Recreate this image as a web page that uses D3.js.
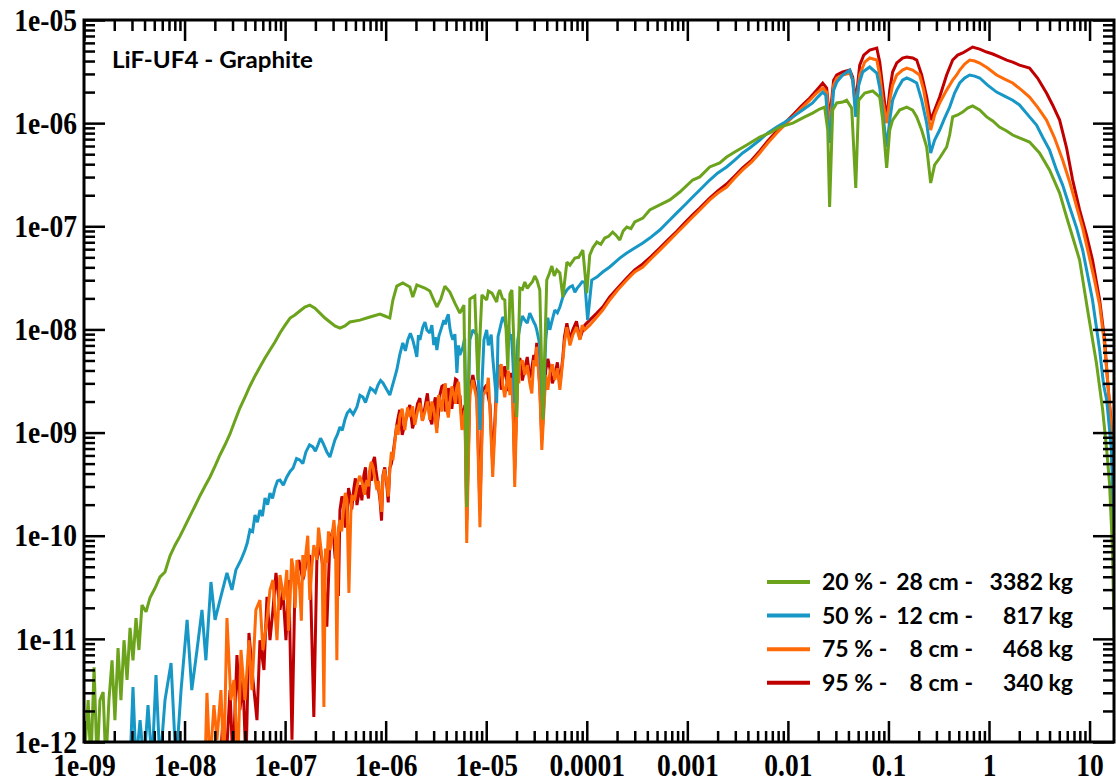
<!DOCTYPE html>
<html><head><meta charset="utf-8">
<script src="https://cdn.jsdelivr.net/npm/d3@7"></script>
<style>
html,body{margin:0;padding:0;background:#fff;}
svg{display:block;}
</style></head>
<body>
<svg id="chart" width="1116" height="782"></svg>
<script>
// ---------- data ----------
const xTickValues = [1e-9,1e-8,1e-7,1e-6,1e-5,1e-4,1e-3,1e-2,1e-1,1,10];
const xTickLabels = ["1e-09","1e-08","1e-07","1e-06","1e-05","0.0001","0.001","0.01","0.1","1","10"];
const yTickValues = [1e-12,1e-11,1e-10,1e-9,1e-8,1e-7,1e-6,1e-5];
const yTickLabels = ["1e-12","1e-11","1e-10","1e-09","1e-08","1e-07","1e-06","1e-05"];
const chartTitle = "LiF-UF4 - Graphite";
const legendPct = ["20 %","50 %","75 %","95 %"];
const legendThickness = ["28 cm","12 cm","8 cm","8 cm"];
const legendMass = ["3382 kg","817 kg","468 kg","340 kg"];

// [energy, flux]
const series20 = [[1.0e-9,6e-13],[1.1e-9,2.55e-12],[1.17e-9,6e-13],[1.26e-9,5.3e-12],[1.35e-9,6e-13],[1.44e-9,2.55e-12],[1.55e-9,3.05e-12],[1.65e-9,6e-13],[1.77e-9,2.55e-12],[1.9e-9,6.2e-12],[2.03e-9,1.63e-12],[2.18e-9,8.15e-12],[2.33e-9,2.55e-12],[2.5e-9,9.7e-12],[2.68e-9,4.0e-12],[2.87e-9,1.28e-11],[3.07e-9,6.2e-12],[3.29e-9,1.59e-11],[3.52e-9,7.8e-12],[3.77e-9,2.13e-11],[4.14e-9,1.83e-11],[4.53e-9,2.5e-11],[5.09e-9,3.11e-11],[5.7e-9,3.98e-11],[6.39e-9,4.45e-11],[7.17e-9,6.37e-11],[8.04e-9,8.1e-11],[9.02e-9,9.9e-11],[1.01e-8,1.24e-10],[1.13e-8,1.55e-10],[1.27e-8,1.94e-10],[1.42e-8,2.43e-10],[1.6e-8,3.03e-10],[1.79e-8,3.71e-10],[2.01e-8,4.74e-10],[2.25e-8,6.06e-10],[2.52e-8,7.57e-10],[2.83e-8,9.7e-10],[3.17e-8,1.3e-9],[3.55e-8,1.73e-9],[3.99e-8,2.21e-9],[4.47e-8,2.83e-9],[5.02e-8,3.54e-9],[5.62e-8,4.32e-9],[6.31e-8,5.29e-9],[7.07e-8,6.32e-9],[7.93e-8,7.55e-9],[8.89e-8,9.25e-9],[1.0e-7,1.1e-8],[1.12e-7,1.29e-8],[1.25e-7,1.38e-8],[1.4e-7,1.51e-8],[1.57e-7,1.65e-8],[1.76e-7,1.72e-8],[1.98e-7,1.61e-8],[2.22e-7,1.44e-8],[2.49e-7,1.29e-8],[2.79e-7,1.18e-8],[3.13e-7,1.08e-8],[3.51e-7,1.03e-8],[3.93e-7,1.08e-8],[4.41e-7,1.18e-8],[5.55e-7,1.23e-8],[6.98e-7,1.32e-8],[8.78e-7,1.41e-8],[9.8e-7,1.35e-8],[1.1e-6,1.29e-8],[1.18e-6,1.93e-8],[1.29e-6,2.63e-8],[1.48e-6,2.82e-8],[1.74e-6,2.58e-8],[1.86e-6,2.06e-8],[2.04e-6,2.7e-8],[2.45e-6,2.52e-8],[2.75e-6,2.36e-8],[2.95e-6,2.01e-8],[3.23e-6,1.65e-8],[3.54e-6,1.97e-8],[3.88e-6,2.63e-8],[4.35e-6,2.3e-8],[4.88e-6,1.8e-8],[5.47e-6,1.44e-8],[6.0e-6,1.72e-8],[6.4e-6,1.9e-10],[6.87e-6,1.97e-8],[7.7e-6,2.11e-8],[8.26e-6,3.23e-9],[9.06e-6,2.16e-8],[1.01e-5,1.93e-8],[1.05e-5,2.35e-8],[1.14e-5,2.25e-8],[1.27e-5,1.84e-8],[1.31e-5,2.2e-8],[1.36e-5,2.41e-8],[1.45e-5,2.0e-8],[1.53e-5,1.93e-8],[1.64e-5,4.05e-9],[1.72e-5,2.2e-8],[1.8e-5,2.41e-8],[2.01e-5,1.42e-9],[2.16e-5,2.52e-8],[2.29e-5,2.45e-8],[2.42e-5,2.88e-8],[2.56e-5,2.5e-8],[2.71e-5,2.7e-8],[2.88e-5,2.9e-8],[3.04e-5,3.29e-8],[3.2e-5,3.0e-8],[3.41e-5,2.41e-8],[3.66e-5,1.33e-9],[4.0e-5,3.01e-8],[4.25e-5,3.5e-8],[4.49e-5,4.12e-8],[4.75e-5,3.3e-8],[5.04e-5,3.77e-8],[5.4e-5,3.52e-8],[5.78e-5,2.06e-8],[6.34e-5,4.5e-8],[6.8e-5,4.2e-8],[7.61e-5,4.92e-8],[8.3e-5,5.0e-8],[9.14e-5,5.88e-8],[1.0e-4,2.25e-8],[1.07e-4,5.26e-8],[1.15e-4,6.2e-8],[1.26e-4,7.03e-8],[1.38e-4,6.7e-8],[1.51e-4,7.69e-8],[1.65e-4,8.0e-8],[1.81e-4,8.79e-8],[1.95e-4,8.2e-8],[2.13e-4,7.36e-8],[2.3e-4,9.0e-8],[2.5e-4,9.84e-8],[2.75e-4,9.5e-8],[3.0e-4,1.1e-7],[3.61e-4,1.2e-7],[4.23e-4,1.44e-7],[5.32e-4,1.61e-7],[6.69e-4,1.8e-7],[8.42e-4,2.15e-7],[1.13e-3,2.81e-7],[1.33e-3,3.01e-7],[1.67e-3,3.76e-7],[2.1e-3,4.11e-7],[2.46e-3,4.69e-7],[2.96e-3,5.25e-7],[3.9e-3,6.14e-7],[5.25e-3,7.34e-7],[6.6e-3,8.03e-7],[8.3e-3,9.17e-7],[1.12e-2,1.0e-6],[1.47e-2,1.15e-6],[1.76e-2,1.25e-6],[2.07e-2,1.37e-6],[2.32e-2,1.43e-6],[2.49e-2,8.58e-7],[2.6e-2,1.54e-7],[2.79e-2,1.34e-6],[3.06e-2,1.57e-6],[3.51e-2,1.6e-6],[3.84e-2,1.67e-6],[4.31e-2,1.4e-6],[4.73e-2,2.35e-7],[5.06e-2,1.67e-6],[5.81e-2,1.96e-6],[6.97e-2,2.05e-6],[8.19e-2,1.79e-6],[8.77e-2,1.07e-6],[9.6e-2,3.68e-7],[0.103,8.58e-7],[0.110,1.07e-6],[0.129,1.34e-6],[0.152,1.43e-6],[0.174,1.34e-6],[0.191,1.15e-6],[0.214,8.58e-7],[0.240,5.87e-7],[0.263,2.63e-7],[0.288,3.93e-7],[0.323,4.59e-7],[0.379,5.87e-7],[0.406,7.67e-7],[0.435,1.15e-6],[0.488,1.2e-6],[0.547,1.28e-6],[0.613,1.4e-6],[0.687,1.47e-6],[0.808,1.34e-6],[0.948,1.15e-6],[1.09,1.05e-6],[1.27,9.17e-7],[1.5,8.4e-7],[1.72,7.67e-7],[2.01,7.18e-7],[2.53,6.56e-7],[3.18,5.14e-7],[4.0,3.52e-7],[5.04,2.1e-7],[5.91,1.23e-7],[6.79,7.87e-8],[7.96,4.71e-8],[9.56,1.54e-8],[11.7,4.73e-9],[13.5,1.66e-9],[14.8,6.77e-10],[15.8,3.24e-10],[16.9,7.28e-11],[17.7,7.8e-12],[18.6,3e-13]];

const series50 = [[2.87e-9,6e-13],[3.07e-9,3.41e-12],[3.29e-9,6e-13],[3.61e-9,1.63e-12],[3.95e-9,6e-13],[4.33e-9,2.28e-12],[4.75e-9,6e-13],[5.2e-9,4.46e-12],[5.7e-9,6e-13],[6.39e-9,2.55e-12],[7.34e-9,5.83e-12],[8.23e-9,6e-13],[9.23e-9,3.19e-12],[1.06e-8,1.53e-11],[1.18e-8,3.19e-12],[1.33e-8,7.8e-12],[1.49e-8,1.91e-11],[1.63e-8,6.2e-12],[1.83e-8,3.56e-11],[2.01e-8,1.53e-11],[2.25e-8,2.38e-11],[2.64e-8,4.36e-11],[2.96e-8,2.98e-11],[3.24e-8,4.66e-11],[3.64e-8,5.82e-11],[3.99e-8,7.28e-11],[4.2e-8,8.5e-11],[4.47e-8,1.14e-10],[4.75e-8,1.1e-10],[5.02e-8,1.59e-10],[5.3e-8,1.35e-10],[5.62e-8,1.77e-10],[5.95e-8,1.55e-10],[6.31e-8,2.32e-10],[6.7e-8,2.0e-10],[7.07e-8,2.59e-10],[7.5e-8,2.3e-10],[7.93e-8,2.9e-10],[8.4e-8,3.4e-10],[8.89e-8,3.46e-10],[9.6e-8,3.1e-10],[1.04e-7,3.71e-10],[1.12e-7,4.2e-10],[1.2e-7,4.53e-10],[1.3e-7,5.6e-10],[1.4e-7,5.42e-10],[1.5e-7,5.0e-10],[1.61e-7,6.49e-10],[1.75e-7,7.6e-10],[1.89e-7,7.26e-10],[2.0e-7,6.6e-10],[2.12e-7,7.57e-10],[2.25e-7,8.8e-10],[2.38e-7,7.92e-10],[2.6e-7,6.49e-10],[2.79e-7,5.79e-10],[2.95e-7,7.0e-10],[3.13e-7,8.5e-10],[3.3e-7,9.5e-10],[3.51e-7,1.13e-9],[3.7e-7,1.05e-9],[3.93e-7,1.33e-9],[4.15e-7,1.55e-9],[4.41e-7,1.66e-9],[4.75e-7,1.5e-9],[5.18e-7,1.77e-9],[5.55e-7,2.3e-9],[5.94e-7,2.21e-9],[6.3e-7,1.95e-9],[6.66e-7,2.31e-9],[7.05e-7,2.7e-9],[7.47e-7,2.59e-9],[7.9e-7,2.45e-9],[8.38e-7,2.89e-9],[8.9e-7,3.2e-9],[9.4e-7,3.03e-9],[1.03e-6,2.59e-9],[1.1e-6,2.31e-9],[1.21e-6,3.23e-9],[1.29e-6,4.05e-9],[1.38e-6,5.66e-9],[1.48e-6,7.4e-9],[1.57e-6,6.2e-9],[1.66e-6,7.92e-9],[1.76e-6,9.2e-9],[1.86e-6,7.92e-9],[1.95e-6,6.6e-9],[2.04e-6,5.41e-9],[2.12e-6,8.8e-9],[2.19e-6,7.92e-9],[2.34e-6,1.05e-8],[2.46e-6,1.18e-8],[2.57e-6,9.9e-9],[2.75e-6,9.25e-9],[2.88e-6,1.1e-8],[3.01e-6,7.06e-9],[3.12e-6,8.4e-9],[3.23e-6,6.32e-9],[3.38e-6,8.6e-9],[3.54e-6,9.9e-9],[3.66e-6,1.1e-8],[3.79e-6,1.23e-8],[3.92e-6,1.12e-8],[4.06e-6,1.29e-8],[4.2e-6,1.4e-8],[4.35e-6,1.03e-8],[4.5e-6,8.8e-9],[4.66e-6,7.92e-9],[4.88e-6,9.0e-9],[5.11e-6,3.78e-9],[5.3e-6,7.0e-9],[5.47e-6,5.66e-9],[5.86e-6,6.76e-9],[6.1e-6,8.2e-9],[6.4e-6,5.79e-10],[6.87e-6,7.92e-9],[7.36e-6,9.9e-9],[8.07e-6,8.85e-9],[8.66e-6,1.06e-9],[9.49e-6,7.92e-9],[1.01e-5,9.9e-9],[1.05e-5,7.0e-9],[1.09e-5,7.92e-9],[1.12e-5,8.9e-9],[1.16e-5,5.41e-9],[1.27e-5,1.94e-9],[1.31e-5,8.5e-9],[1.36e-5,9.9e-9],[1.41e-5,1.15e-8],[1.46e-5,1.32e-8],[1.53e-5,1.2e-8],[1.6e-5,9.9e-9],[1.66e-5,1.1e-8],[1.72e-5,7.92e-9],[1.78e-5,9.0e-9],[1.84e-5,5.05e-9],[1.92e-5,1.94e-9],[2.06e-5,7.92e-9],[2.11e-5,9.2e-9],[2.16e-5,1.05e-8],[2.29e-5,1.35e-8],[2.42e-5,1.23e-8],[2.56e-5,1.15e-8],[2.71e-5,1.44e-8],[2.84e-5,1.3e-8],[2.97e-5,1.18e-8],[3.08e-5,1.1e-8],[3.18e-5,9.9e-9],[3.41e-5,7.06e-9],[3.66e-5,1.42e-9],[3.91e-5,7.92e-9],[4.1e-5,1.3e-8],[4.29e-5,9.9e-9],[4.55e-5,1.25e-8],[4.81e-5,1.54e-8],[5.1e-5,1.45e-8],[5.4e-5,1.65e-8],[5.78e-5,2.06e-8],[6.0e-5,2.2e-8],[6.34e-5,2.41e-8],[6.79e-5,2.58e-8],[7.2e-5,2.65e-8],[7.61e-5,2.3e-8],[8.0e-5,2.5e-8],[8.54e-5,2.7e-8],[9.0e-5,2.9e-8],[9.56e-5,2.88e-8],[1.02e-4,1.23e-8],[1.12e-4,3.01e-8],[1.26e-4,3.22e-8],[1.44e-4,3.6e-8],[1.69e-4,4.03e-8],[2.13e-4,4.92e-8],[2.5e-4,5.5e-8],[3.0e-4,6.15e-8],[3.61e-4,6.88e-8],[4.23e-4,7.69e-8],[5.32e-4,9.2e-8],[6.39e-4,1.1e-7],[7.86e-4,1.35e-7],[9.44e-4,1.61e-7],[1.13e-3,1.92e-7],[1.33e-3,2.25e-7],[1.67e-3,2.81e-7],[2.01e-3,3.29e-7],[2.46e-3,3.76e-7],[2.96e-3,4.39e-7],[3.55e-3,5.14e-7],[4.17e-3,5.74e-7],[5.25e-3,6.86e-7],[6.31e-3,8.03e-7],[7.75e-3,9.17e-7],[9.3e-3,1.02e-6],[1.12e-2,1.15e-6],[1.4e-2,1.34e-6],[1.76e-2,1.57e-6],[1.98e-2,1.79e-6],[2.22e-2,2.0e-6],[2.38e-2,1.87e-6],[2.6e-2,6.42e-7],[2.85e-2,2.09e-6],[3.06e-2,2.5e-6],[3.51e-2,2.93e-6],[4.12e-2,3.27e-6],[4.41e-2,2.61e-6],[4.73e-2,1.15e-6],[5.06e-2,2.34e-6],[5.55e-2,3.13e-6],[6.51e-2,3.5e-6],[7.65e-2,3.06e-6],[8.19e-2,2.19e-6],[8.77e-2,1.25e-6],[9.6e-2,5.87e-7],[0.103,1.07e-6],[0.11,1.67e-6],[0.121,2.09e-6],[0.138,2.61e-6],[0.152,2.74e-6],[0.17,2.61e-6],[0.191,2.45e-6],[0.214,1.67e-6],[0.24,1.0e-6],[0.263,5.14e-7],[0.288,6.86e-7],[0.323,8.58e-7],[0.362,1.12e-6],[0.406,1.43e-6],[0.455,1.96e-6],[0.511,2.45e-6],[0.573,2.74e-6],[0.642,2.93e-6],[0.72,2.86e-6],[0.808,2.74e-6],[0.968,2.34e-6],[1.19,2.0e-6],[1.43,1.83e-6],[1.72,1.67e-6],[2.01,1.5e-6],[2.53,1.15e-6],[2.97,9.6e-7],[3.41,7.34e-7],[4.0,5.5e-7],[4.69,3.52e-7],[5.4,2.51e-7],[6.34,1.54e-7],[7.44,9.6e-8],[8.54,5.88e-8],[9.56,3.37e-8],[10.7,1.93e-8],[12.6,6.32e-9],[13.8,2.89e-9],[14.8,2.07e-9],[15.8,1.06e-9],[16.5,6.77e-10],[17.3,1.42e-10],[18.1,6e-13]];

const series75 = [[1.6e-8,6e-13],[1.67e-8,2.99e-12],[1.79e-8,6e-13],[1.96e-8,2.28e-12],[2.1e-8,1.05e-12],[2.3e-8,3.19e-12],[2.46e-8,6e-13],[2.64e-8,1.59e-11],[2.89e-8,2.55e-12],[3.1e-8,4.0e-12],[3.39e-8,6e-13],[3.64e-8,7.8e-12],[3.99e-8,2.55e-12],[4.37e-8,9.7e-12],[4.68e-8,3.19e-12],[5.12e-8,1.91e-11],[5.62e-8,2.38e-11],[6.02e-8,7.8e-12],[6.6e-8,1.53e-11],[7.07e-8,2.98e-11],[7.57e-8,3.72e-11],[8.3e-8,9.7e-12],[8.89e-8,4.16e-11],[9.75e-8,2.38e-11],[1.04e-7,4.66e-11],[1.08e-7,1.2e-11],[1.12e-7,2.38e-11],[1.16e-7,6.0e-11],[1.2e-7,4.98e-11],[1.26e-7,2.0e-11],[1.31e-7,5.82e-11],[1.35e-7,4.2e-11],[1.4e-7,2.98e-11],[1.45e-7,1.5e-11],[1.5e-7,6.5e-11],[1.55e-7,4.0e-11],[1.61e-7,6.8e-11],[1.68e-7,1.0e-10],[1.76e-7,2.38e-11],[1.85e-7,5.2e-11],[1.93e-7,8.1e-11],[2.07e-7,5.82e-11],[2.15e-7,1.2e-10],[2.22e-7,9.1e-11],[2.33e-7,6.0e-11],[2.43e-7,2.18e-12],[2.52e-7,7.5e-11],[2.6e-7,5.44e-11],[2.7e-7,1.1e-10],[2.79e-7,7.28e-11],[2.93e-7,1.0e-10],[3.06e-7,1.42e-10],[3.17e-7,9.0e-11],[3.27e-7,6.2e-12],[3.39e-7,1.2e-10],[3.51e-7,1.42e-10],[3.65e-7,1.1e-10],[3.84e-7,1.98e-10],[3.97e-7,2.6e-10],[4.12e-7,2.22e-10],[4.31e-7,2.79e-11],[4.5e-7,1.6e-10],[4.62e-7,2.48e-10],[4.9e-7,2.2e-10],[5.18e-7,2.97e-10],[5.5e-7,3.8e-10],[5.81e-7,3.32e-10],[6.15e-7,2.5e-10],[6.51e-7,3.46e-10],[6.75e-7,3.0e-10],[6.98e-7,4.53e-10],[7.2e-7,5.2e-10],[7.47e-7,4.64e-10],[7.8e-7,3.6e-10],[8.19e-7,2.77e-10],[8.5e-7,3.4e-10],[8.78e-7,2.37e-10],[9.1e-7,1.7e-10],[9.4e-7,3.62e-10],[9.7e-7,4.4e-10],[1.03e-6,3.24e-10],[1.06e-6,2.4e-10],[1.1e-6,4.34e-10],[1.14e-6,6.5e-10],[1.18e-6,5.42e-10],[1.29e-6,1.19e-9],[1.33e-6,9.5e-10],[1.38e-6,1.42e-9],[1.46e-6,1.7e-9],[1.55e-6,1.06e-9],[1.65e-6,1.75e-9],[1.74e-6,1.42e-9],[1.85e-6,1.8e-9],[1.95e-6,1.19e-9],[2.07e-6,1.6e-9],[2.19e-6,1.94e-9],[2.32e-6,1.3e-9],[2.45e-6,1.58e-9],[2.6e-6,2.0e-9],[2.75e-6,1.33e-9],[2.88e-6,2.0e-9],[3.01e-6,1.66e-9],[3.12e-6,1.3e-9],[3.23e-6,9.9e-10],[3.35e-6,2.3e-9],[3.46e-6,2.07e-9],[3.62e-6,1.6e-9],[3.79e-6,2.59e-9],[3.92e-6,3.0e-9],[4.06e-6,1.66e-9],[4.2e-6,1.4e-9],[4.35e-6,1.94e-9],[4.55e-6,2.8e-9],[4.77e-6,2.31e-9],[4.95e-6,1.9e-9],[5.11e-6,2.77e-9],[5.3e-6,3.1e-9],[5.47e-6,2.07e-9],[5.73e-6,1.06e-9],[6.14e-6,1.66e-9],[6.4e-6,8.5e-11],[6.87e-6,2.31e-9],[7.36e-6,3.23e-9],[8.07e-6,2.07e-9],[8.66e-6,1.21e-10],[9.26e-6,2.31e-9],[1.01e-5,2.59e-9],[1.05e-5,3.4e-9],[1.09e-5,1.66e-9],[1.16e-5,3.71e-10],[1.27e-5,2.59e-9],[1.31e-5,3.0e-9],[1.36e-5,4.05e-9],[1.41e-5,4.6e-9],[1.46e-5,2.89e-9],[1.53e-5,2.2e-9],[1.6e-5,3.03e-9],[1.66e-5,4.0e-9],[1.72e-5,2.31e-9],[1.78e-5,3.4e-9],[1.84e-5,2.07e-9],[1.92e-5,2.97e-10],[2.06e-5,4.05e-9],[2.11e-5,3.0e-9],[2.16e-5,4.73e-9],[2.29e-5,5.0e-9],[2.42e-5,3.62e-9],[2.56e-5,4.5e-9],[2.71e-5,3.03e-9],[2.84e-5,2.4e-9],[2.97e-5,5.05e-9],[3.08e-5,4.4e-9],[3.18e-5,6.76e-9],[3.41e-5,2.59e-9],[3.57e-5,6.77e-10],[3.91e-5,3.62e-9],[4.1e-5,2.6e-9],[4.29e-5,3.78e-9],[4.55e-5,4.6e-9],[4.81e-5,3.23e-9],[5.1e-5,4.2e-9],[5.4e-5,2.59e-9],[5.78e-5,5.05e-9],[6.0e-5,7.5e-9],[6.34e-5,1.05e-8],[6.8e-5,7.0e-9],[7.27e-5,8.85e-9],[7.9e-5,1.05e-8],[8.54e-5,7.92e-9],[9.0e-5,1.1e-8],[9.56e-5,9.9e-9],[1.07e-4,1.1e-8],[1.26e-4,1.32e-8],[1.44e-4,1.54e-8],[1.69e-4,1.93e-8],[2.03e-4,2.41e-8],[2.5e-4,3.01e-8],[3.0e-4,3.6e-8],[3.61e-4,4.03e-8],[4.43e-4,4.92e-8],[5.32e-4,5.88e-8],[6.39e-4,7.03e-8],[7.86e-4,8.6e-8],[9.44e-4,1.03e-7],[1.13e-3,1.23e-7],[1.33e-3,1.44e-7],[1.67e-3,1.8e-7],[2.01e-3,2.1e-7],[2.46e-3,2.4e-7],[2.96e-3,2.94e-7],[3.55e-3,3.52e-7],[4.37e-3,4.2e-7],[5.25e-3,5.14e-7],[6.31e-3,6.42e-7],[7.75e-3,8.03e-7],[9.3e-3,9.6e-7],[1.12e-2,1.15e-6],[1.37e-2,1.4e-6],[1.65e-2,1.67e-6],[1.93e-2,1.96e-6],[2.22e-2,2.19e-6],[2.43e-2,2.0e-6],[2.6e-2,8.58e-7],[2.85e-2,2.34e-6],[3.06e-2,2.74e-6],[3.51e-2,2.93e-6],[4.12e-2,3.06e-6],[4.41e-2,2.61e-6],[4.73e-2,1.34e-6],[5.18e-2,2.93e-6],[5.81e-2,3.91e-6],[6.51e-2,4.28e-6],[7.65e-2,4.09e-6],[8.19e-2,2.93e-6],[8.77e-2,1.67e-6],[9.6e-2,1.0e-6],[0.103,1.67e-6],[0.11,2.34e-6],[0.121,2.93e-6],[0.138,3.27e-6],[0.152,3.42e-6],[0.174,3.27e-6],[0.204,2.93e-6],[0.224,2.09e-6],[0.24,1.43e-6],[0.263,8.58e-7],[0.288,1.2e-6],[0.323,1.57e-6],[0.379,2.09e-6],[0.435,2.61e-6],[0.477,2.93e-6],[0.511,3.27e-6],[0.573,3.74e-6],[0.642,4.09e-6],[0.72,4.0e-6],[0.808,3.83e-6],[0.968,3.42e-6],[1.19,2.93e-6],[1.43,2.67e-6],[1.72,2.45e-6],[2.11,2.09e-6],[2.53,1.79e-6],[3.04,1.43e-6],[3.73,1.07e-6],[4.49,7.18e-7],[5.4,4.39e-7],[6.34,2.69e-7],[7.44,1.54e-7],[8.54,9.6e-8],[10.0,4.92e-8],[11.2,3.01e-8],[12.6,1.72e-8],[14.1,7.06e-9],[15.1,3.23e-9],[16.2,1.33e-9],[16.9,4.34e-10],[17.7,2.38e-11],[18.6,3e-13]];

const series95 = [[2.25e-8,6e-13],[2.41e-8,1.63e-12],[2.58e-8,6e-13],[2.83e-8,3.19e-12],[3.03e-8,6e-13],[3.32e-8,6.97e-12],[3.55e-8,2.04e-12],[3.81e-8,4.0e-12],[4.08e-8,6e-13],[4.37e-8,1.14e-11],[4.79e-8,4.0e-12],[5.25e-8,1.63e-12],[5.62e-8,9.7e-12],[6.16e-8,4.99e-12],[6.6e-8,2.55e-11],[7.07e-8,9.7e-12],[7.57e-8,1.91e-11],[8.11e-8,4.36e-11],[8.89e-8,1.91e-11],[9.5e-8,2.98e-11],[1.02e-7,9.7e-12],[1.09e-7,3.72e-11],[1.17e-7,1.05e-12],[1.25e-7,2.98e-11],[1.37e-7,5.82e-11],[1.5e-7,3.72e-11],[1.61e-7,5.21e-11],[1.76e-7,6.5e-11],[1.93e-7,1.75e-12],[2.07e-7,5.82e-11],[2.22e-7,8.1e-11],[2.43e-7,4.16e-11],[2.6e-7,1.31e-11],[2.79e-7,9.1e-11],[2.99e-7,1.14e-10],[3.15e-7,6e-11],[3.27e-7,6.5e-11],[3.39e-7,2.6e-11],[3.51e-7,1.77e-10],[3.67e-7,2.4e-10],[3.84e-7,2.22e-10],[3.97e-7,1.2e-10],[4.12e-7,1.42e-10],[4.27e-7,2.9e-10],[4.41e-7,2.48e-10],[4.6e-7,1.8e-10],[4.83e-7,2.9e-10],[5.0e-7,3.6e-10],[5.18e-7,1.98e-10],[5.35e-7,2.4e-10],[5.55e-7,3.1e-10],[5.8e-7,2.2e-10],[6.07e-7,3.87e-10],[6.3e-7,4.6e-10],[6.51e-7,2.77e-10],[6.75e-7,2.3e-10],[6.98e-7,4.34e-10],[7.2e-7,3.4e-10],[7.47e-7,5.19e-10],[7.75e-7,5.8e-10],[8.0e-7,4.34e-10],[8.4e-7,3.1e-10],[8.78e-7,2.22e-10],[9.1e-7,1.4e-10],[9.4e-7,3.87e-10],[9.8e-7,4.6e-10],[1.03e-6,2.97e-10],[1.06e-6,2.1e-10],[1.1e-6,4.53e-10],[1.14e-6,5.0e-10],[1.18e-6,6.06e-10],[1.29e-6,1.19e-9],[1.33e-6,1.4e-9],[1.38e-6,1.66e-9],[1.46e-6,9.5e-10],[1.55e-6,1.19e-9],[1.65e-6,1.6e-9],[1.74e-6,1.85e-9],[1.85e-6,1.1e-9],[1.95e-6,1.33e-9],[2.07e-6,1.9e-9],[2.19e-6,2.16e-9],[2.32e-6,1.3e-9],[2.45e-6,1.73e-9],[2.6e-6,2.4e-9],[2.75e-6,1.39e-9],[2.88e-6,1.2e-9],[3.01e-6,1.85e-9],[3.12e-6,2.2e-9],[3.23e-6,1.11e-9],[3.35e-6,1.5e-9],[3.46e-6,2.31e-9],[3.62e-6,2.8e-9],[3.79e-6,2.89e-9],[3.92e-6,1.6e-9],[4.06e-6,1.85e-9],[4.2e-6,2.7e-9],[4.35e-6,2.16e-9],[4.55e-6,1.7e-9],[4.77e-6,2.59e-9],[4.95e-6,3.3e-9],[5.11e-6,3.23e-9],[5.3e-6,1.9e-9],[5.47e-6,2.31e-9],[5.73e-6,1.33e-9],[6.14e-6,1.85e-9],[6.4e-6,1.42e-10],[6.87e-6,2.59e-9],[7.36e-6,3.62e-9],[8.07e-6,2.31e-9],[8.66e-6,1.77e-10],[9.26e-6,2.59e-9],[1.01e-5,2.89e-9],[1.05e-5,2.2e-9],[1.09e-5,1.85e-9],[1.16e-5,4.85e-10],[1.27e-5,2.89e-9],[1.31e-5,3.6e-9],[1.36e-5,4.52e-9],[1.41e-5,2.6e-9],[1.46e-5,3.38e-9],[1.53e-5,4.4e-9],[1.6e-5,3.23e-9],[1.66e-5,2.6e-9],[1.72e-5,2.59e-9],[1.78e-5,3.8e-9],[1.84e-5,2.16e-9],[1.92e-5,4.34e-10],[2.06e-5,4.52e-9],[2.11e-5,3.6e-9],[2.16e-5,5.29e-9],[2.29e-5,3.2e-9],[2.42e-5,4.23e-9],[2.56e-5,5.4e-9],[2.71e-5,3.38e-9],[2.84e-5,4.2e-9],[2.97e-5,5.66e-9],[3.08e-5,5.0e-9],[3.18e-5,7.4e-9],[3.41e-5,2.89e-9],[3.57e-5,8.5e-10],[3.91e-5,4.05e-9],[4.1e-5,5.2e-9],[4.29e-5,4.23e-9],[4.55e-5,3.0e-9],[4.81e-5,3.62e-9],[5.1e-5,4.8e-9],[5.4e-5,2.89e-9],[5.78e-5,5.41e-9],[6.0e-5,8.5e-9],[6.34e-5,1.15e-8],[6.8e-5,8.0e-9],[7.27e-5,9.9e-9],[7.9e-5,1.2e-8],[8.54e-5,8.1e-9],[9.0e-5,9.5e-9],[9.56e-5,1.1e-8],[1.07e-4,1.23e-8],[1.26e-4,1.44e-8],[1.44e-4,1.65e-8],[1.69e-4,2.06e-8],[2.03e-4,2.52e-8],[2.5e-4,3.15e-8],[3.0e-4,3.77e-8],[3.61e-4,4.32e-8],[4.43e-4,5.16e-8],[5.32e-4,6.15e-8],[6.39e-4,7.36e-8],[7.86e-4,8.96e-8],[9.44e-4,1.08e-7],[1.13e-3,1.29e-7],[1.33e-3,1.5e-7],[1.67e-3,1.88e-7],[2.01e-3,2.2e-7],[2.46e-3,2.57e-7],[2.96e-3,3.07e-7],[3.55e-3,3.68e-7],[4.37e-3,4.39e-7],[5.25e-3,5.37e-7],[6.31e-3,6.71e-7],[7.75e-3,8.4e-7],[9.3e-3,1.0e-6],[1.12e-2,1.2e-6],[1.37e-2,1.47e-6],[1.65e-2,1.75e-6],[1.93e-2,2.09e-6],[2.22e-2,2.45e-6],[2.43e-2,2.19e-6],[2.6e-2,1.07e-6],[2.85e-2,2.61e-6],[3.06e-2,2.93e-6],[3.51e-2,3.13e-6],[4.12e-2,3.27e-6],[4.41e-2,2.8e-6],[4.73e-2,1.57e-6],[5.18e-2,3.65e-6],[5.68e-2,4.57e-6],[6.51e-2,5.11e-6],[7.65e-2,5.35e-6],[8.19e-2,3.91e-6],[8.77e-2,2.24e-6],[9.6e-2,1.07e-6],[0.103,2.09e-6],[0.11,3.13e-6],[0.121,3.83e-6],[0.138,4.28e-6],[0.152,4.38e-6],[0.174,4.28e-6],[0.191,4.09e-6],[0.214,2.93e-6],[0.24,1.79e-6],[0.263,1.07e-6],[0.288,1.34e-6],[0.323,1.79e-6],[0.379,2.93e-6],[0.435,4.09e-6],[0.488,4.57e-6],[0.547,4.79e-6],[0.613,5.11e-6],[0.687,5.47e-6],[0.808,5.22e-6],[0.948,4.89e-6],[1.09,4.68e-6],[1.27,4.38e-6],[1.5,4.09e-6],[1.72,3.91e-6],[2.01,3.65e-6],[2.53,3.42e-6],[3.04,2.74e-6],[3.73,1.96e-6],[4.29,1.5e-6],[5.04,1.07e-6],[5.91,5.74e-7],[6.79,2.81e-7],[7.96,1.44e-7],[9.33,8.2e-8],[10.7,4.71e-8],[12.6,1.93e-8],[14.1,7.92e-9],[15.1,3.23e-9],[16.2,1.42e-9],[16.9,4.34e-10],[17.7,2.38e-11],[18.6,3e-13]];

// ---------- layout / style ----------
const L = 84, R = 1114, T = 20, B = 742;
const colors = {s20:"#6ca31c", s50:"#1797c6", s75:"#ff6a08", s95:"#c00000"};

const svg = d3.select("#chart");
const x = d3.scaleLog().domain([1e-9, 17.5]).range([L, R]);
const y = d3.scaleLog().domain([1e-12, 1e-5]).range([B, T]);

svg.append("defs").append("clipPath").attr("id","plotclip")
  .append("rect").attr("x",L).attr("y",T).attr("width",R-L).attr("height",B-T);

const line = d3.line().x(d => x(d[0])).y(d => y(d[1]));
const plot = svg.append("g").attr("clip-path","url(#plotclip)");
const drawOrder = [[series95,colors.s95],[series75,colors.s75],[series50,colors.s50],[series20,colors.s20]];
drawOrder.forEach(([data,c]) => {
  plot.append("path").datum(data).attr("d", line)
    .attr("fill","none").attr("stroke", c).attr("stroke-width", 3)
    .attr("stroke-linejoin","miter").attr("stroke-miterlimit",2);
});

// minor ticks (2..9 in each decade) from the scales
function isMinor(v){
  const e = Math.floor(Math.log10(v) + 1e-9);
  const m = v / Math.pow(10, e);
  const r = Math.round(m);
  return Math.abs(m - r) < 1e-6 && r >= 2 && r <= 9;
}
const xMinor = x.ticks(50).filter(isMinor);
const yMinor = y.ticks(50).filter(isMinor);

function styleAxis(g){
  g.select(".domain").remove();
  g.selectAll(".tick line").attr("stroke","#000").attr("stroke-width",2.5);
}
const MAJ = 21, MIN = 11;
// bottom
svg.append("g").attr("transform",`translate(0,${B})`)
  .call(d3.axisBottom(x).tickValues(xMinor).tickSize(-MIN).tickFormat(""))
  .call(styleAxis);
const xAx = svg.append("g").attr("transform",`translate(0,${B})`)
  .call(d3.axisBottom(x).tickValues(xTickValues).tickSize(-MAJ).tickPadding(11)
    .tickFormat((d,i) => xTickLabels[i]))
  .call(styleAxis);
// top
svg.append("g").attr("transform",`translate(0,${T})`)
  .call(d3.axisTop(x).tickValues(xMinor).tickSize(-MIN).tickFormat("")).call(styleAxis);
svg.append("g").attr("transform",`translate(0,${T})`)
  .call(d3.axisTop(x).tickValues(xTickValues).tickSize(-MAJ).tickFormat("")).call(styleAxis);
// left
svg.append("g").attr("transform",`translate(${L},0)`)
  .call(d3.axisLeft(y).tickValues(yMinor).tickSize(-MIN).tickFormat("")).call(styleAxis);
const yAx = svg.append("g").attr("transform",`translate(${L},0)`)
  .call(d3.axisLeft(y).tickValues(yTickValues).tickSize(-MAJ).tickPadding(7)
    .tickFormat((d,i) => yTickLabels[i]))
  .call(styleAxis);
// right
svg.append("g").attr("transform",`translate(${R},0)`)
  .call(d3.axisRight(y).tickValues(yMinor).tickSize(-MIN).tickFormat("")).call(styleAxis);
svg.append("g").attr("transform",`translate(${R},0)`)
  .call(d3.axisRight(y).tickValues(yTickValues).tickSize(-MAJ).tickFormat("")).call(styleAxis);

// tick label styling (condensed bold serif)
[xAx, yAx].forEach(g => {
  g.selectAll(".tick text")
    .attr("fill","#000")
    .style("font-family","'Liberation Serif','DejaVu Serif',serif")
    .style("font-weight","bold")
    .style("font-size","32px")
    .each(function(){
      const w = this.getComputedTextLength();
      d3.select(this).attr("textLength", w*0.86).attr("lengthAdjust","spacingAndGlyphs");
    });
});

// frame
svg.append("rect").attr("x",L).attr("y",T).attr("width",R-L).attr("height",B-T)
  .attr("fill","none").attr("stroke","#000").attr("stroke-width",3);

// title
svg.append("text").attr("x",112).attr("y",68).text(chartTitle)
  .style("font-family","Lato,'Open Sans',sans-serif").style("font-weight","bold")
  .style("font-size","22px").attr("fill","#000")
  .attr("textLength",201).attr("lengthAdjust","spacingAndGlyphs");

// legend
const legendColors = [colors.s20, colors.s50, colors.s75, colors.s95];
const lg = svg.append("g");
legendPct.forEach((p,i) => {
  const ly = 582 + i*33.6;
  lg.append("line").attr("x1",767).attr("x2",810).attr("y1",ly).attr("y2",ly)
    .attr("stroke",legendColors[i]).attr("stroke-width",4);
  const t = (xx, anchor, s) => lg.append("text").attr("x",xx).attr("y",ly+8)
    .attr("text-anchor",anchor).text(s)
    .style("font-family","Lato,'Open Sans',sans-serif").style("font-weight","bold")
    .style("font-size","23px").attr("fill","#000");
  t(822,"start", p + " -");
  t(973,"end", legendThickness[i] + " -");
  t(1073,"end", legendMass[i]);
});
</script>
</body></html>
